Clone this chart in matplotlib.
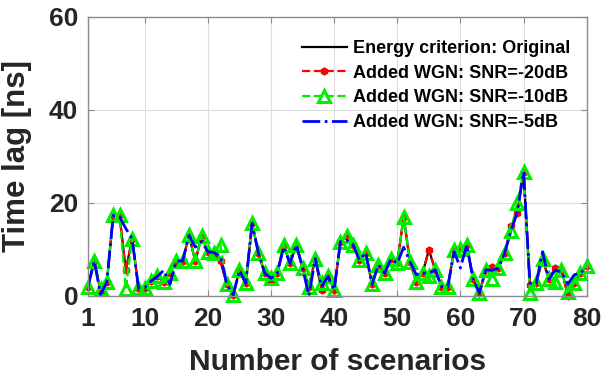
import numpy as np
import matplotlib
matplotlib.use("Agg")
import matplotlib.pyplot as plt

plt.rcParams['font.family'] = ['Liberation Sans', 'DejaVu Sans']
plt.rcParams['font.weight'] = 'bold'

scenarios = list(range(1, 81))

original = [2, 7.5, 1, 3, 17.3, 17.3, 5.5, 12.3, 1.8, 1.8,
            3.2, 4.2, 3.0, 5.0, 7.5, 7.5, 13, 7.5, 12.8, 9.5,
            9.3, 7.5, 2.5, 0.2, 5.5, 2.7, 15.6, 9.2, 4.9, 3.8,
            4.9, 11, 7, 11, 6, 2, 8, 1.5, 4.2, 1.3,
            11.7, 12.8, 11, 7.7, 9.3, 2.5, 6.7, 4.9, 8, 7,
            17, 7.4, 3, 4.9, 9.9, 5.6, 2, 2, 9.8, 10,
            11, 3.6, 0.6, 5.6, 5, 6, 9.2, 14, 18, 26.7,
            2.4, 2.7, 8, 3.6, 5.9, 5.6, 0.3, 2.7, 4.9, 6.4]

snr_m20 = [2, 7.5, 1, 3, 17.3, 17.3, 5.5, 12.3, 1.8, 1.8,
           3.2, 4.2, 3.0, 5.0, 7.5, 7.5, 13, 7.5, 12.8, 9.5,
           9.3, 7.5, 2.5, 0.2, 5.5, 2.7, 15.6, 9.2, 4.9, 3.1,
           4.9, 11, 7, 11, 6, 2, 8, 1.3, 4.2, 1.3,
           11.7, 12.8, 11, 7.7, 9.3, 2.5, 6.7, 4.9, 8, 7,
           17, 7.4, 3, 4.9, 9.9, 5.6, 2, 2, 9.8, 10,
           11, 3.6, 0.6, 5.6, 6.3, 6, 9.2, 15, 17.9, 26.7,
           2.4, 2.7, 8, 3.6, 5.9, 5.6, 0.0, 2.7, 4.9, 6.4]

snr_m10 = [2, 7.5, 1.5, 3, 17.3, 17.3, 1.5, 12.3, 1.8, 1.8,
           3.2, 4.2, 3.0, 5.0, 7.5, 7.5, 13, 7.5, 12.8, 9.5,
           9.3, 10.9, 2.5, 0.2, 5.5, 2.7, 15.6, 9.2, 4.9, 3.8,
           4.9, 11, 7, 11, 6, 2, 8, 2.7, 4.2, 1.3,
           11.7, 12.8, 11, 7.7, 9.3, 2.5, 6.7, 4.9, 8, 7,
           17, 7.4, 3, 4.9, 4.2, 5.6, 2, 2, 9.8, 10,
           11, 3.6, 0.6, 5.6, 3.6, 6, 9.2, 14, 20, 26.7,
           0.6, 2.7, 8, 3.6, 3.0, 5.6, 0.8, 2.7, 4.9, 6.4]

snr_m5 = [2, 7.5, 0.3, 3, 17.3, 17, 14.5, 12.3, 1.8, 1.8,
          3.2, 4.2, 5.5, 2.5, 7.5, 7.5, 13, 10.5, 11.7, 9.5,
          9.3, 8.5, 2.5, 0.2, 5.5, 2.7, 15.6, 9.2, 4.9, 3.8,
          4.9, 10.5, 7, 11, 6, 0, 8, 2.0, 4.2, 1.3,
          11.7, 12, 11, 7.7, 9.3, 2.5, 6.7, 4.9, 8, 7,
          10.5, 7.4, 4.6, 4.9, 4.9, 5.6, 2, 2, 9.5, 6,
          11, 3.6, 0.6, 5.6, 5.5, 6, 9.2, 14, 18, 26.7,
          2.7, 2.7, 9.5, 3.6, 5.5, 5.2, 2.5, 4.5, 5, 6]

xticks = [1, 10, 20, 30, 40, 50, 60, 70, 80]
yticks = [0, 20, 40, 60]

fig = plt.figure(figsize=(6.15, 3.76), dpi=100)
ax = fig.add_axes([0.143, 0.213, 0.811, 0.742])

ax.plot(scenarios, original, '-', color='black', lw=1.6, label='Energy criterion: Original')
ax.plot(scenarios, snr_m20, '--', color='red', lw=1.6, marker='h', ms=5,
        mfc='red', mec='red', label='Added WGN: SNR=-20dB', clip_on=False)
ax.plot(scenarios, snr_m10, '--', color='#00ee00', lw=1.6, marker='^', ms=8,
        mfc='none', mec='#00ee00', mew=2.2, label='Added WGN: SNR=-10dB', clip_on=False)
ax.plot(scenarios, snr_m5, '-.', color='#0000ff', lw=2.0, label='Added WGN: SNR=-5dB')

ax.set_xlim(1, 80)
ax.set_ylim(0, 60)
ax.set_xticks(xticks)
ax.set_yticks(yticks)
ax.grid(True, color='#dddddd', lw=0.8)
ax.set_axisbelow(True)
for s in ax.spines.values():
    s.set_color('#8c8c8c')
    s.set_linewidth(1.0)
ax.tick_params(direction='in', top=True, right=True, length=4, color='#8c8c8c',
               labelsize=19, labelcolor='#262626')
ax.tick_params(axis='x', pad=8)
ax.tick_params(axis='y', pad=7)
for lab in ax.get_xticklabels() + ax.get_yticklabels():
    lab.set_fontweight('bold')

ax.set_xlabel('Number of scenarios', fontsize=21.5, fontweight='bold', color='#262626')
ax.set_ylabel('Time lag [ns]', fontsize=22.5, fontweight='bold', color='#262626')
ax.xaxis.set_label_coords(0.5, -0.186)
ax.yaxis.set_label_coords(-0.113, 0.5)

leg = ax.legend(loc='upper right', frameon=False, handlelength=2.5,
                labelspacing=0.42, handletextpad=0.35, borderaxespad=0.5,
                bbox_to_anchor=(1.0, 0.975),
                prop={'weight': 'bold', 'size': 13})

fig.savefig('out.png', dpi=100)
